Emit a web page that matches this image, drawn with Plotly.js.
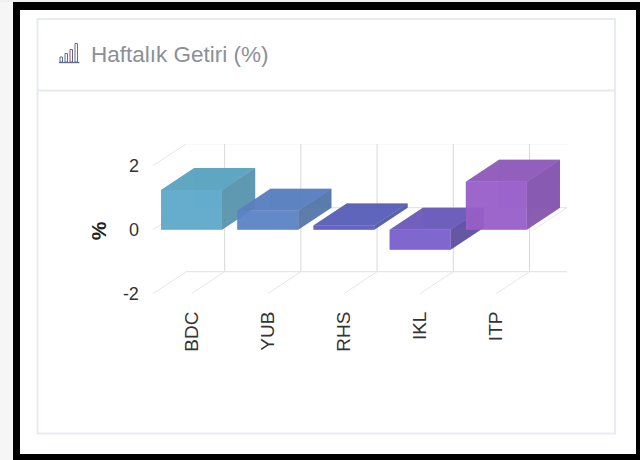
<!DOCTYPE html>
<html><head><meta charset="utf-8">
<script src="https://cdn.plot.ly/plotly-3.0.1.min.js"></script>
<style>html,body{margin:0;padding:0;background:#fff;overflow:hidden}</style>
</head><body><div id="chart" style="width:640px;height:460px"></div>
<script>
const categories = ['BDC','YUB','RHS','IKL','ITP'];
const returns = [1.24, 0.59, 0.13, -0.63, 1.5];
const yTickVals = [-2, 0, 2];
const yTickText = ['-2', '0', '2'];
const frontColors = ['#5fa9ca','#5c83c6','#5b5ebb','#7a60cd','#985fc9'];
const topColors   = ['#5ba3c0','#5a80bf','#5a60b8','#6c5cba','#8f5cbb'];
const sideColors  = ['#5892ab','#5476a6','#4f5aa6','#5d4d9e','#8354ab'];
const backColors  = ['#79c3e6','#7199dc','#7072d0','#8d76de','#b07ae0'];

// geometry of the 3D box projection
const W=640,H=460,L=153,R=567,T=144,B=294;
const catPx=76.2, unitPx=32, x0Px=191.5;
const DX=33.2/catPx, DY=22/unitPx, BW=0.8;
const xRange=[(L-x0Px)/catPx,(R-x0Px)/catPx];
const yLow=-2-0.3/unitPx;
const yRange=[yLow,yLow+(B-T)/unitPx];
const wallL=xRange[0]+DX, wallR=xRange[1];
const frontL=xRange[0];

const traces=[];
function line(xs,ys,c,w){traces.push({type:'scatter',mode:'lines',x:xs,y:ys,line:{color:c,width:w||1},hoverinfo:'skip',showlegend:false});}
function face(xs,ys,c,op,name){traces.push({type:'scatter',mode:'lines',x:xs.concat(xs[0]),y:ys.concat(ys[0]),fill:'toself',fillcolor:c,opacity:op,line:{width:0,color:c},name:name,hoverinfo:'skip',showlegend:false});}

// walls
yTickVals.forEach(v=>{
  line([wallL,wallR],[v+DY,v+DY],'#e0e0e0',1);
  line([frontL,wallL],[v,v+DY],'#e6e6e6',1);
});
line([wallR-DX,wallR],[0,DY],'#e6e6e6',1);
categories.forEach((c,i)=>{
  line([i+DX,i+DX],[-2+DY,2+DY],'#d8d8d8',1);
  line([i,i+DX],[-2,-2+DY],'#e6e6e6',1);
});

// bars
returns.forEach((v,i)=>{
  const a=i-BW/2,b=i+BW/2,hi=Math.max(v,0),lo=Math.min(v,0),n=categories[i];
  // hidden faces
  face([a+DX,b+DX,b+DX,a+DX],[lo+DY,lo+DY,hi+DY,hi+DY],backColors[i],0.7,n);
  face([a,a+DX,a+DX,a],[lo,lo+DY,hi+DY,hi],topColors[i],0.35,n);
  face([a,b,b+DX,a+DX],[lo,lo,lo+DY,lo+DY],topColors[i],0.35,n);
  // visible faces
  face([a,b,b+DX,a+DX],[hi,hi,hi+DY,hi+DY],topColors[i],0.95,n);
  face([b,b+DX,b+DX,b],[lo,lo+DY,hi+DY,hi],sideColors[i],0.92,n);
  face([a,b,b,a],[lo,lo,hi,hi],frontColors[i],0.93,n);
});

const px=x=>(x-L)/(R-L), py=y=>(B-y)/(B-T);
function rect(x0,y0,x1,y1,fill,lc,lw){return {type:'rect',xref:'paper',yref:'paper',x0:px(x0),x1:px(x1),y0:py(y1),y1:py(y0),fillcolor:fill,line:{color:lc||fill,width:lw||0},layer:'below'};}
const icon='#5d6f98';
const shapes=[
  rect(0,0,640,460,'#000000'),
  rect(0,0,13,460,'#f6f6f6'),
  rect(0,0,640,2,'#f0f0f0'),
  rect(20,10,636,454,'#ffffff'),
  rect(37.5,19,615,433.5,'#ffffff','#e8ebf1',2),
  rect(38,89.5,615,91.5,'#e8e9ec'),
  rect(59,62,79.5,63.2,icon),
  rect(60,57,62.5,62,'rgba(0,0,0,0)',icon,1),
  rect(65,53.5,67.5,62,'rgba(0,0,0,0)',icon,1),
  rect(70,49.5,72.5,62,'rgba(0,0,0,0)','#7a5a80',1),
  rect(75,43.5,77.5,62,'rgba(0,0,0,0)',icon,1)
];

Plotly.newPlot('chart',traces,{
  width:W,height:H,autosize:false,
  margin:{l:L,r:W-R,t:T,b:H-B,pad:0},
  paper_bgcolor:'#ffffff',plot_bgcolor:'rgba(0,0,0,0)',
  showlegend:false,
  title:{text:'Haftalık Getiri (%)',xref:'container',yref:'container',x:91/W,xanchor:'left',y:1-54/H,yanchor:'middle',font:{family:'Liberation Sans',size:22.5,color:'#8b9098'}},
  xaxis:{range:xRange,tickmode:'array',tickvals:categories.map((c,i)=>i),ticktext:categories,tickangle:-90,ticks:'outside',ticklen:9,tickcolor:'rgba(0,0,0,0)',showgrid:false,zeroline:false,showline:false,fixedrange:true,automargin:false,tickfont:{family:'Liberation Sans',size:19,color:'#333333'}},
  yaxis:{range:yRange,tickmode:'array',tickvals:yTickVals,ticktext:yTickText,ticks:'outside',ticklen:9.5,ticklabelshift:-1.5,tickcolor:'rgba(0,0,0,0)',showgrid:false,zeroline:false,showline:false,fixedrange:true,automargin:false,tickfont:{family:'Liberation Sans',size:18,color:'#333333'}},
  annotations:[{text:'<b>%</b>',textangle:-90,xref:'paper',yref:'y',x:px(98),y:-0.05,xanchor:'center',yanchor:'middle',showarrow:false,font:{family:'Liberation Sans',size:21,color:'#222222'}}],
  shapes:shapes
},{displayModeBar:false,staticPlot:true});
</script></body></html>
